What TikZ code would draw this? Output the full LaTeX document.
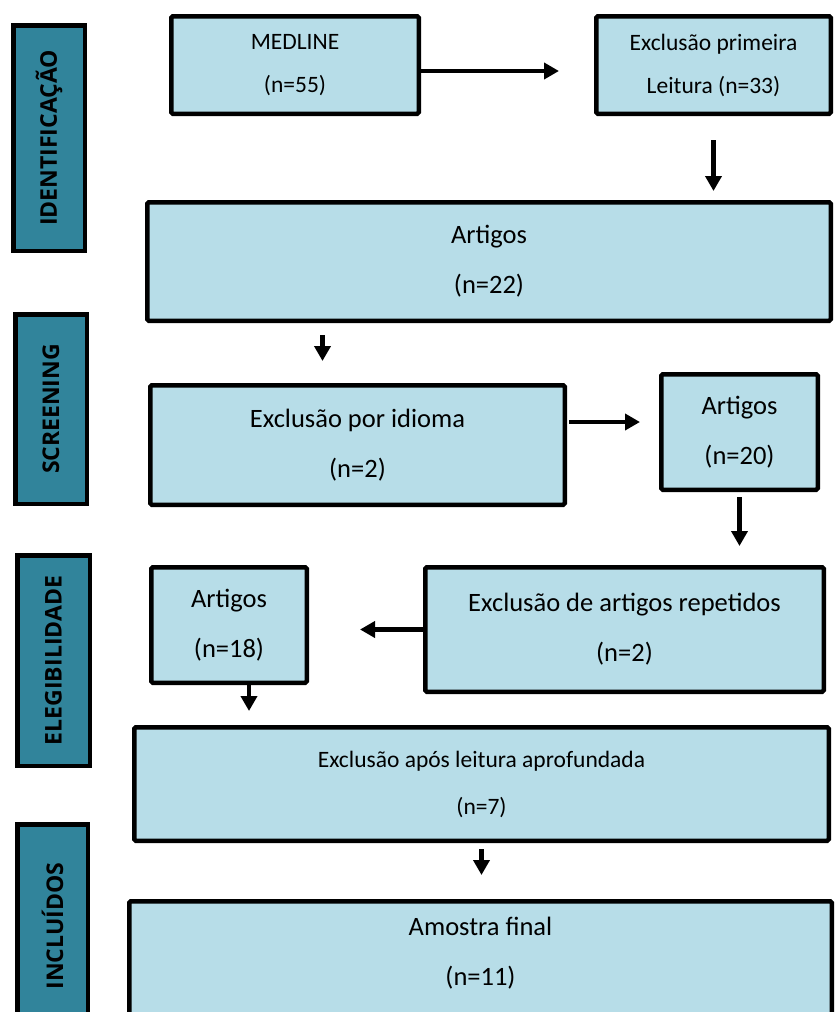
\documentclass[tikz,border=0pt]{standalone}
\usepackage{fontspec}
\setmainfont{Carlito}
\newfontfamily\stagefont{Open Sans}
\usetikzlibrary{arrows.meta}
\definecolor{stagefill}{HTML}{31849B}
\definecolor{boxfill}{HTML}{B7DDE8}
\tikzset{
	every path/.style={line width=4.5pt},
	stage/.style={
		draw,
		rectangle,
		fill=stagefill,
		rotate=90,
		inner sep=0pt,
		font=\stagefont\bfseries\fontsize{23}{27}\selectfont,
	},
	box/.style={
		draw,
		rectangle,
		rounded corners=1.5pt,
		fill=boxfill,
		align=center,
		inner sep=0pt,
		font=\fontsize{26.5}{50}\selectfont,
	},
	smallbox/.style={
		box,
		font=\fontsize{23.5}{43}\selectfont,
	},
	flow/.style={
		-{Triangle[length=15pt,width=16pt]}
	},
}

\begin{document}
\begin{tikzpicture}[x=1pt,y=-1pt]
		\useasboundingbox (0,0) rectangle (835,1012);

		\node[stage, minimum width=225.5pt, minimum height=71.5pt]	(ident) at (49,138) {IDENTIFICAÇÃO};
		\node[stage, minimum width=189.5pt, minimum height=71.5pt]	(screen) at (51,409) {SCREENING};
		\node[stage, minimum width=210.5pt, minimum height=72.5pt]	(elig) at (53.5,660.5) {ELEGIBILIDADE};
		\node[stage, minimum width=203.5pt, minimum height=70.5pt]	(incl) at (52.5,926) {INCLUÍDOS};

		\node[smallbox, minimum width=247.5pt, minimum height=97.5pt]	(medline) at (295,65) {MEDLINE\\(n=55)};
		\node[smallbox, minimum width=234.5pt, minimum height=97.5pt]	(firstread) at (713.5,65) {Exclusão primeira\\Leitura (n=33)};
		\node[box, minimum width=683.5pt, minimum height=118.5pt]		(art22) at (489,261.5) {Artigos\\(n=22)};

		\node[box, minimum width=414.5pt, minimum height=119.5pt]		(language) at (357.5,445) {Exclusão por idioma\\(n=2)};
		\node[box, minimum width=156.5pt, minimum height=115.5pt]		(art20) at (739.5,432) {Artigos\\(n=20)};

		\node[box, minimum width=155.5pt, minimum height=115.5pt]		(art18) at (229,625) {Artigos\\(n=18)};
		\node[box, minimum width=398.5pt, minimum height=124.5pt]		(repeated) at (624.5,629.5) {Exclusão de artigos repetidos\\(n=2)};
		\node[smallbox, minimum width=694.5pt, minimum height=113.5pt,
			font=\fontsize{23.5}{47}\selectfont]						(fullread) at (481.5,784) {Exclusão após leitura aprofundada\\(n=7)};

		\node[box, minimum width=702.5pt, minimum height=121.5pt,
			text depth=22pt]											(final) at (480.5,962) {Amostra final\\(n=11)};

%%%

		\coordinate (langtop) at ([xshift=-35pt]language.north);
		\coordinate (art18bot) at ([xshift=20pt]art18.south);

		\draw[flow, shorten >=35pt]					([yshift=-6pt]medline.east) -- ([yshift=-6pt]firstread.west);
		\draw[flow, shorten <=24pt, shorten >=9pt]	(firstread.south) -- (firstread.south |- art22.north);
		\draw[flow, shorten <=12pt, shorten >=22pt]	(langtop |- art22.south) -- (langtop);
		\draw[flow, shorten <=2pt, shorten >=19pt]	([yshift=10pt]art20.west -| language.east) -- ([yshift=10pt]art20.west);
		\draw[flow, shorten <=5pt, shorten >=19pt]	(art20.south) -- (art20.south |- repeated.north);
		\draw[flow, shorten >=51pt]					(repeated.west) -- (repeated.west -| art18.east);
		\draw[flow, shorten >=14pt]					(art18bot) -- (art18bot |- fullread.north);
		\draw[flow, shorten <=6pt, shorten >=24pt]	(fullread.south) -- (fullread.south |- final.north);
\end{tikzpicture}
\end{document}
